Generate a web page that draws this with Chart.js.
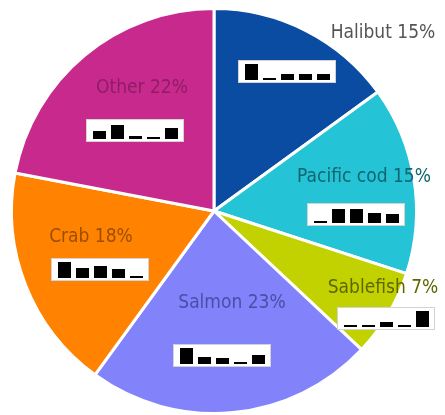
<!DOCTYPE html>
<html>
<head>
<meta charset="utf-8">
<script src="https://cdn.jsdelivr.net/npm/chart.js@4/dist/chart.umd.min.js"></script>
<style>
  html, body { margin: 0; padding: 0; background: #fff; }
  #wrap { width: 445px; height: 415px; }
</style>
</head>
<body>
<div id="wrap"><canvas id="pie" width="445" height="415"></canvas></div>
<script>
// --- data ---
const species = ["Halibut", "Pacific cod", "Sablefish", "Salmon", "Crab", "Other"];
const shares = [15, 15, 7, 23, 18, 22];

// little 5-bar trend in each label box
const trendHalibut = [1.0, 0.1, 0.35, 0.35, 0.4];
const trendCod = [0.1, 0.85, 0.85, 0.6, 0.55];
const trendSablefish = [0.1, 0.1, 0.3, 0.1, 1.0];
const trendSalmon = [1.0, 0.45, 0.35, 0.1, 0.55];
const trendCrab = [1.0, 0.6, 0.75, 0.55, 0.08];
const trendOther = [0.5, 0.9, 0.2, 0.1, 0.7];
const trends = [trendHalibut, trendCod, trendSablefish, trendSalmon, trendCrab, trendOther];

const sliceColors = ["#0a4ca2", "#24c3d5", "#c2d200", "#8282fa", "#ff8300", "#c72a8c"];
const labelColors = ["#555555", "#0f6670", "#5e6600", "#4d4da8", "#9c4e00", "#8e1d66"];

// label + box positions, relative to the pie centre
const labelSpots = [
  { tx: 169, ty: -178, bx: 73, by: -140 },
  { tx: 150, ty: -34, bx: 142, by: 3 },
  { tx: 169, ty: 77, bx: 172, by: 107 },
  { tx: 18, ty: 92, bx: 8, by: 144 },
  { tx: -123, ty: 26, bx: -114, by: 58 },
  { tx: -72, ty: -123, bx: -79, by: -81 }
];

const sliceLabels = {
  id: 'sliceLabels',
  afterDatasetsDraw(chart) {
    const ctx = chart.ctx;
    const arc = chart.getDatasetMeta(0).data[0];
    const cx = arc.x, cy = arc.y;
    ctx.save();
    ctx.font = '19px "DejaVu Sans Condensed", "DejaVu Sans", sans-serif';
    ctx.textAlign = 'center';
    ctx.textBaseline = 'middle';
    species.forEach((name, i) => {
      const s = labelSpots[i];
      ctx.fillStyle = labelColors[i];
      ctx.fillText(`${name} ${shares[i]}%`, cx + s.tx, cy + s.ty);

      // white box with tiny bars
      const bw = 98, bh = 23;
      const x0 = Math.round(cx + s.bx - bw / 2), y0 = Math.round(cy + s.by - bh / 2);
      ctx.fillStyle = '#ffffff';
      ctx.fillRect(x0, y0, bw, bh);
      ctx.strokeStyle = 'rgba(200,200,200,0.8)';
      ctx.lineWidth = 1;
      ctx.strokeRect(x0 + 0.5, y0 + 0.5, bw - 1, bh - 1);

      const vals = trends[i];
      const barW = 13, gap = 5, maxH = 16;
      const totalW = vals.length * barW + (vals.length - 1) * gap;
      let bx = x0 + (bw - totalW) / 2;
      const base = y0 + bh - 3;
      ctx.fillStyle = '#000000';
      vals.forEach(v => {
        const h = Math.max(2, Math.round(v * maxH));
        ctx.fillRect(Math.round(bx), base - h, barW, h);
        bx += barW + gap;
      });
    });
    ctx.restore();
  }
};

new Chart(document.getElementById('pie'), {
  type: 'pie',
  data: {
    labels: species,
    datasets: [{
      data: shares,
      backgroundColor: sliceColors,
      borderColor: '#ffffff',
      borderWidth: 3
    }]
  },
  options: {
    responsive: false,
    animation: false,
    layout: { padding: { left: 10, right: 27, top: 7, bottom: 0 } },
    plugins: {
      legend: { display: false },
      tooltip: { enabled: false }
    }
  },
  plugins: [sliceLabels]
});
</script>
</body>
</html>
